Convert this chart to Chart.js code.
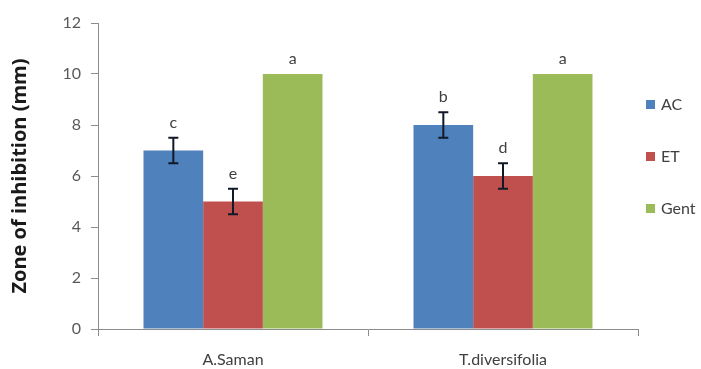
<!DOCTYPE html>
<html>
<head>
<meta charset="utf-8">
<script src="https://cdn.jsdelivr.net/npm/chart.js@4"></script>
<style>
  html, body { margin: 0; padding: 0; background: #fff; }
  #wrap { width: 701px; height: 369px; position: relative; }
</style>
</head>
<body>
<div id="wrap"><canvas id="chart"></canvas></div>
<script>
// ── Data ─────────────────────────────────────────────────────
const categories = ['A.Saman', 'T.diversifolia'];
const seriesNames = ['AC', 'ET', 'Gent'];
const acValues = [7, 8];
const etValues = [5, 6];
const gentValues = [10, 10];
const acErrors = [0.5, 0.5];
const etErrors = [0.5, 0.5];
const gentErrors = [0, 0];
const acLetters = ['c', 'b'];
const etLetters = ['e', 'd'];
const gentLetters = ['a', 'a'];
const yTicks = [0, 2, 4, 6, 8, 10, 12];

const colors = ['#4F81BD', '#C0504D', '#9BBB59'];
const font = 'Lato, "Open Sans", sans-serif';

// ── Plugins ──────────────────────────────────────────────────
const errorBarsPlugin = {
  id: 'errorBars',
  afterDatasetsDraw(chart) {
    const ctx = chart.ctx;
    const y = chart.scales.y;
    chart.data.datasets.forEach((ds, i) => {
      const meta = chart.getDatasetMeta(i);
      meta.data.forEach((bar, j) => {
        const v = ds.data[j];
        const e = ds.errors[j];
        let top = y.getPixelForValue(v);
        if (e > 0) {
          const hi = y.getPixelForValue(v + e);
          const lo = y.getPixelForValue(v - e);
          ctx.save();
          ctx.strokeStyle = '#111827';
          ctx.lineWidth = 2;
          ctx.beginPath();
          ctx.moveTo(bar.x, hi); ctx.lineTo(bar.x, lo);
          ctx.moveTo(bar.x - 5, hi); ctx.lineTo(bar.x + 5, hi);
          ctx.moveTo(bar.x - 5, lo); ctx.lineTo(bar.x + 5, lo);
          ctx.stroke();
          ctx.restore();
          top = hi;
        }
        ctx.save();
        ctx.fillStyle = '#404040';
        ctx.font = '16px ' + font;
        ctx.textAlign = 'center';
        ctx.textBaseline = 'bottom';
        ctx.fillText(ds.letters[j], bar.x, top - 7);
        ctx.restore();
      });
    });
  }
};

const sideLegendPlugin = {
  id: 'sideLegend',
  afterDraw(chart) {
    const ctx = chart.ctx;
    chart.data.datasets.forEach((ds, i) => {
      const cy = 104 + i * 52;
      ctx.save();
      ctx.fillStyle = ds.backgroundColor;
      ctx.fillRect(646, cy - 4, 9, 9);
      ctx.fillStyle = '#404040';
      ctx.font = '16px ' + font;
      ctx.textBaseline = 'middle';
      ctx.fillText(ds.label, 661, cy + 1);
      ctx.restore();
    });
  }
};

// ── Chart ────────────────────────────────────────────────────
function makeDataset(idx, values, errors, letters) {
  return {
    label: seriesNames[idx],
    data: values,
    errors: errors,
    letters: letters,
    backgroundColor: colors[idx],
    borderWidth: 0,
    categoryPercentage: 0.663,
    barPercentage: 1.0
  };
}

new Chart(document.getElementById('chart'), {
  type: 'bar',
  data: {
    labels: categories,
    datasets: [
      makeDataset(0, acValues, acErrors, acLetters),
      makeDataset(1, etValues, etErrors, etLetters),
      makeDataset(2, gentValues, gentErrors, gentLetters)
    ]
  },
  options: {
    responsive: true,
    maintainAspectRatio: false,
    animation: false,
    layout: { padding: { left: 0, right: 63, top: 23, bottom: 0 } },
    plugins: {
      legend: { display: false },
      tooltip: { enabled: false }
    },
    scales: {
      x: {
        grid: { offset: true, drawOnChartArea: false, tickLength: 7, color: '#8c8c8c' },
        border: { color: '#8c8c8c' },
        ticks: { color: '#404040', font: { family: font, size: 16 }, padding: 14 },
        afterFit: s => { s.height = 40; }
      },
      y: {
        min: 0,
        max: 12,
        afterBuildTicks: s => { s.ticks = yTicks.map(v => ({ value: v })); },
        grid: { drawOnChartArea: false, tickLength: 7, color: '#8c8c8c' },
        border: { color: '#8c8c8c' },
        ticks: { color: '#595959', font: { family: font, size: 16 }, padding: 10 },
        title: {
          display: true,
          text: 'Zone of inhibition (mm)',
          color: '#1a1a1a',
          font: { family: '"Open Sans", sans-serif', size: 20, weight: 'bold' },
          padding: { top: 8, bottom: 0 }
        },
        afterFit: s => { s.width = 98; }
      }
    }
  },
  plugins: [errorBarsPlugin, sideLegendPlugin]
});
</script>
</body>
</html>
